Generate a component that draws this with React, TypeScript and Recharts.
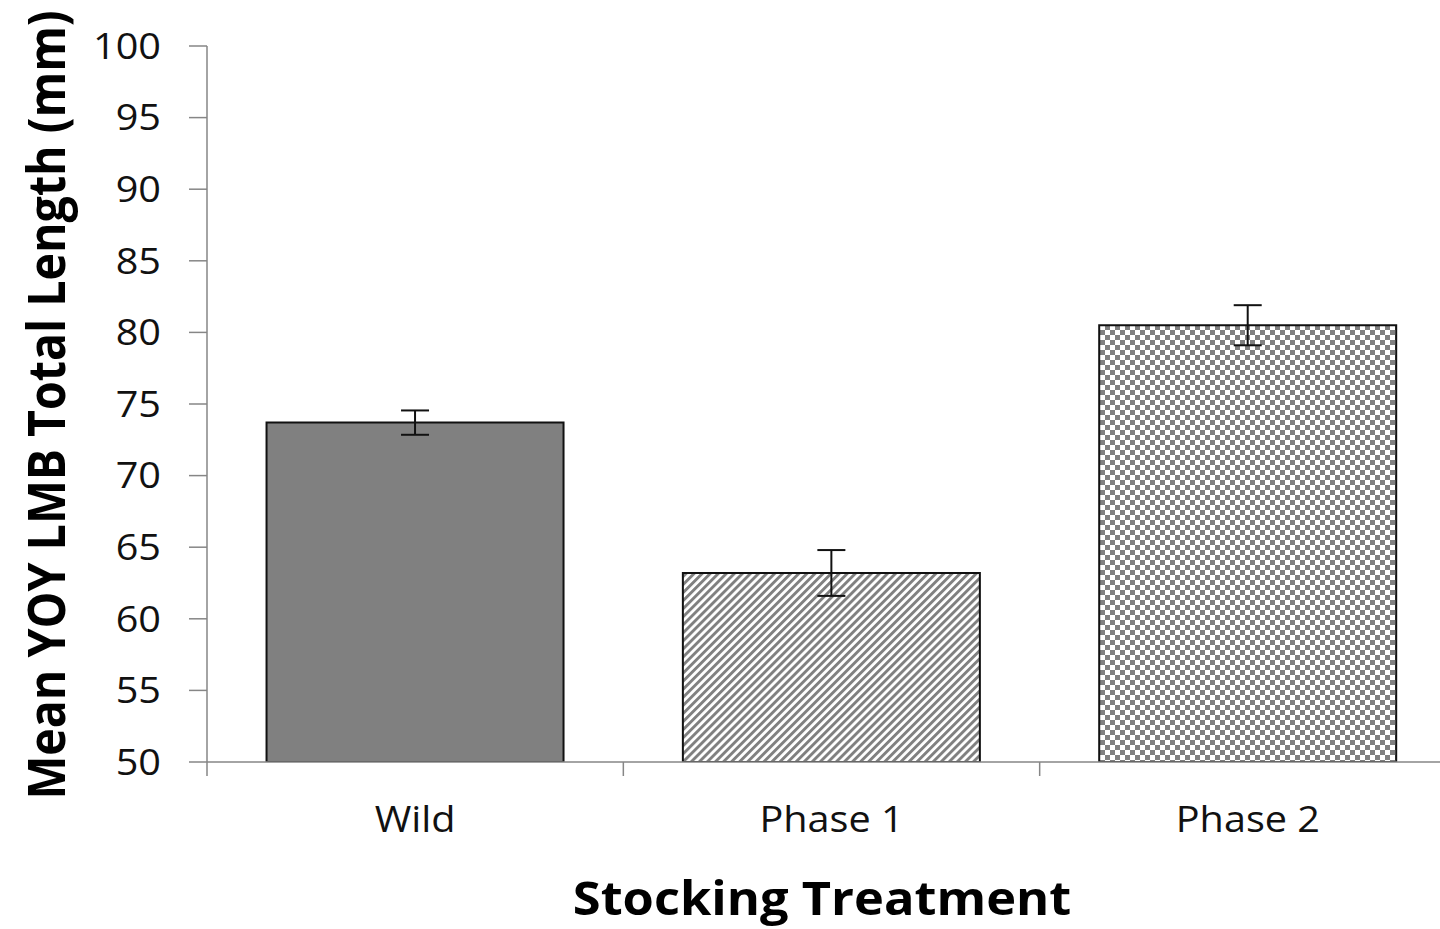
import { BarChart, Bar, XAxis, YAxis, Cell, ErrorBar } from 'recharts';

const categories = ['Wild', 'Phase 1', 'Phase 2'];
const meanLength = [73.7, 63.2, 80.5];
const stdError = [0.85, 1.6, 1.4];
const yTicks = [50, 55, 60, 65, 70, 75, 80, 85, 90, 95, 100];

const fills = ['#808080', 'url(#hatch)', 'url(#checker)'];

const data = categories.map((name, i) => ({
  name,
  mean: meanLength[i],
  err: stdError[i],
}));

const FONT = '"Open Sans", "DejaVu Sans", sans-serif';
const AXIS = '#868686';
const STRETCH = 1.1; // the source image is a bit wider than tall

const CHART_W = 1456;
const CHART_H = 929;
const Y_AXIS_W = 207;
const X_AXIS_H = 167;
const PLOT_BOTTOM = CHART_H - X_AXIS_H;
const BAND = (CHART_W - Y_AXIS_W) / categories.length;

// tick text, widened a little to match the source
function WideTick(props: any) {
  const { x, y, payload, textAnchor, dy } = props;
  return (
    <text
      x={0}
      y={0}
      dy={dy}
      transform={`translate(${x},${y}) scale(${STRETCH},1)`}
      textAnchor={textAnchor}
      fill="#111"
      fontSize={36}
      fontFamily={FONT}
    >
      {payload.value}
    </text>
  );
}

// category label plus tick marks at the band edges (Excel style)
function CategoryTick(props: any) {
  const { x, index, visibleTicksCount } = props;
  const left = x - BAND / 2;
  const right = x + BAND / 2;
  return (
    <g>
      <line x1={left} x2={left} y1={PLOT_BOTTOM} y2={PLOT_BOTTOM + 14} stroke={AXIS} strokeWidth={1.5} />
      {index === visibleTicksCount - 1 && (
        <line x1={right} x2={right} y1={PLOT_BOTTOM} y2={PLOT_BOTTOM + 14} stroke={AXIS} strokeWidth={1.5} />
      )}
      <WideTick {...props} dy="0.71em" textAnchor="middle" />
    </g>
  );
}

export default function App() {
  return (
    <div style={{ position: 'absolute', left: 0, top: 0, width: 1440, height: 929, overflow: 'hidden', background: '#fff', fontFamily: FONT }}>
      <BarChart
        width={CHART_W}
        height={CHART_H}
        data={data}
        margin={{ top: 46, right: 0, bottom: 0, left: 0 }}
        barCategoryGap="14.3%"
      >
        <defs>
          <pattern id="hatch" width="5.7" height="10" patternUnits="userSpaceOnUse" patternTransform="rotate(45)">
            <rect width="5.7" height="10" fill="#fff" />
            <rect width="2.9" height="10" fill="#808080" />
          </pattern>
          <pattern id="checker" width="10" height="10" patternUnits="userSpaceOnUse">
            <rect width="10" height="10" fill="#fff" />
            <rect width="5" height="5" fill="#808080" />
            <rect x="5" y="5" width="5" height="5" fill="#808080" />
          </pattern>
        </defs>
        <XAxis
          dataKey="name"
          height={X_AXIS_H}
          axisLine={{ stroke: AXIS, strokeWidth: 1.5 }}
          tickLine={false}
          tickMargin={38}
          tick={<CategoryTick />}
        />
        <YAxis
          width={Y_AXIS_W}
          domain={[50, 100]}
          ticks={yTicks}
          allowDataOverflow
          axisLine={{ stroke: AXIS, strokeWidth: 1.5 }}
          tickSize={18}
          tickMargin={28}
          tickLine={{ stroke: AXIS, strokeWidth: 1.5 }}
          tick={<WideTick dy="0.355em" textAnchor="end" />}
        />
        <Bar dataKey="mean" stroke="#111" strokeWidth={2} isAnimationActive={false}>
          {data.map((d, i) => (
            <Cell key={d.name} fill={fills[i]} />
          ))}
          <ErrorBar dataKey="err" width={14} stroke="#111" strokeWidth={2} />
        </Bar>
      </BarChart>
      <div
        style={{
          position: 'absolute',
          left: 45,
          top: 405,
          transform: `translate(-50%, -50%) scaleX(${STRETCH}) rotate(-90deg)`,
          whiteSpace: 'nowrap',
          fontSize: 46.5,
          fontWeight: 700,
          color: '#000',
          lineHeight: 1,
        }}
      >
        Mean YOY LMB Total Length (mm)
      </div>
      <div
        style={{
          position: 'absolute',
          left: 822,
          top: 898,
          transform: `translate(-50%, -50%) scaleX(${STRETCH})`,
          whiteSpace: 'nowrap',
          fontSize: 46,
          fontWeight: 700,
          color: '#000',
          lineHeight: 1.2,
        }}
      >
        Stocking Treatment
      </div>
    </div>
  );
}
